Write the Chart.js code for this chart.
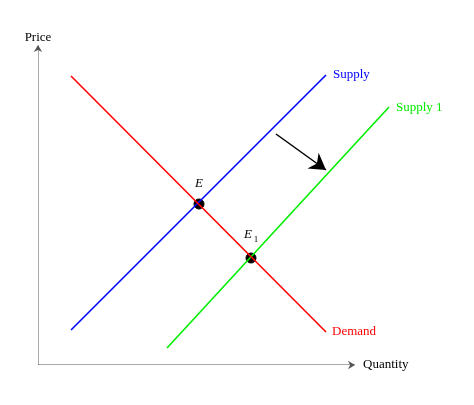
<!DOCTYPE html>
<html>
<head>
<meta charset="utf-8">
<script src="https://cdn.jsdelivr.net/npm/chart.js@4/dist/chart.umd.min.js"></script>
<style>
  body { margin: 0; background: #fff; }
  #wrap { width: 474px; height: 405px; }
</style>
</head>
<body>
<div id="wrap"><canvas id="chart"></canvas></div>
<script>
// coordinates in plot units (origin = axes corner)
const demand = [{x: 33, y: 289}, {x: 288, y: 33}];
const supply = [{x: 33, y: 35}, {x: 288, y: 290}];
const supply1 = [{x: 129, y: 17}, {x: 351, y: 258}];
const equilibria = [{x: 161, y: 161}, {x: 213, y: 107}];
const shiftArrow = [{x: 238, y: 231}, {x: 288, y: 195}];
const xAxisLine = [{x: 0, y: 0}, {x: 317, y: 0}];
const yAxisLine = [{x: 0, y: 0}, {x: 0, y: 320}];

const labels = [
  {text: "Supply", x: 295, y: 290, color: "#0000ff", align: "left"},
  {text: "Supply 1", x: 358, y: 257, color: "#00ee00", align: "left"},
  {text: "Demand", x: 294, y: 33, color: "#ff0000", align: "left"},
  {text: "Quantity", x: 325, y: 0, color: "#000", align: "left"},
  {text: "Price", x: 0, y: 327, color: "#000", align: "center"}
];

const line = (data, color, width) => ({
  type: "line", data, borderColor: color, borderWidth: width || 1.6,
  pointRadius: 0, fill: false
});

function arrowHead(ctx, x1, y1, x2, y2, size, color) {
  const a = Math.atan2(y2 - y1, x2 - x1);
  ctx.save();
  ctx.fillStyle = color;
  ctx.translate(x2, y2);
  ctx.rotate(a);
  ctx.beginPath();
  ctx.moveTo(0, 0);
  ctx.lineTo(-size, -size * 0.6);
  ctx.lineTo(-size * 0.7, 0);
  ctx.lineTo(-size, size * 0.6);
  ctx.closePath();
  ctx.fill();
  ctx.restore();
}

const decorations = {
  id: "decorations",
  afterDatasetsDraw(chart) {
    const ctx = chart.ctx, xs = chart.scales.x, ys = chart.scales.y;
    const px = v => xs.getPixelForValue(v), py = v => ys.getPixelForValue(v);
    arrowHead(ctx, px(xAxisLine[0].x), py(0), px(xAxisLine[1].x), py(0), 7, "#555");
    arrowHead(ctx, px(0), py(yAxisLine[0].y), px(0), py(yAxisLine[1].y), 7, "#555");
    arrowHead(ctx, px(shiftArrow[0].x), py(shiftArrow[0].y), px(shiftArrow[1].x), py(shiftArrow[1].y), 16, "#000");
    ctx.save();
    ctx.font = "13px 'Liberation Serif'";
    ctx.textBaseline = "middle";
    labels.forEach(l => {
      ctx.fillStyle = l.color;
      ctx.textAlign = l.align;
      ctx.fillText(l.text, px(l.x), py(l.y));
    });
    ctx.fillStyle = "#000";
    ctx.textAlign = "center";
    ctx.font = "italic 13px 'Liberation Serif'";
    ctx.fillText("E", px(equilibria[0].x), py(equilibria[0].y) - 20);
    ctx.fillText("E", px(equilibria[1].x) - 3, py(equilibria[1].y) - 23);
    ctx.font = "9px 'Liberation Serif'";
    ctx.fillText("1", px(equilibria[1].x) + 5, py(equilibria[1].y) - 18);
    ctx.restore();
  }
};

new Chart(document.getElementById("chart"), {
  type: "scatter",
  data: {
    datasets: [
      line(xAxisLine, "#555", 1),
      line(yAxisLine, "#555", 1),
      line(demand, "#ff0000"),
      line(supply, "#0000ff"),
      line(supply1, "#00ee00"),
      line(shiftArrow, "#000", 1.5),
      {type: "scatter", data: equilibria, backgroundColor: "#000", borderColor: "#000", pointRadius: 5}
    ]
  },
  options: {
    responsive: true,
    maintainAspectRatio: false,
    animation: false,
    layout: {padding: {left: 38, right: 36, top: 25, bottom: 40}},
    scales: {
      x: {type: "linear", min: 0, max: 400, display: false},
      y: {type: "linear", min: 0, max: 340, display: false}
    },
    plugins: {legend: {display: false}, tooltip: {enabled: false}}
  },
  plugins: [decorations]
});
</script>
</body>
</html>
